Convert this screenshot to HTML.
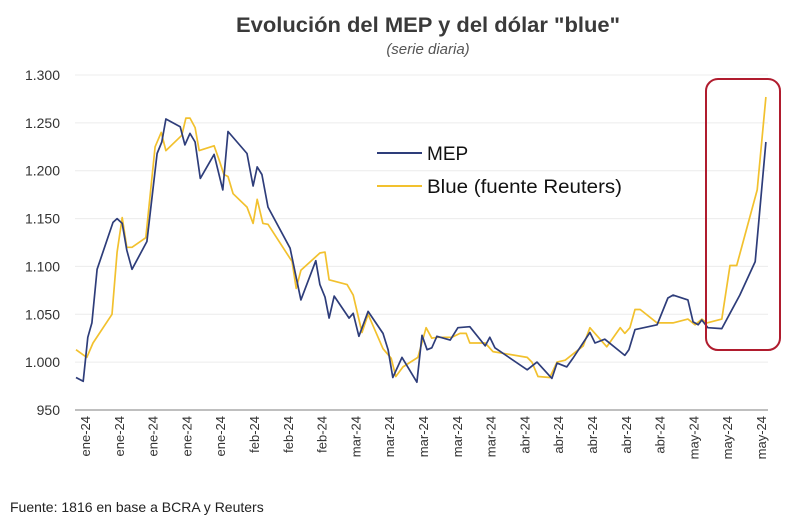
<!DOCTYPE html>
<html><head><meta charset="utf-8"><style>
html,body{margin:0;padding:0;background:#fff;width:800px;height:522px;overflow:hidden}
svg{display:block;font-family:"Liberation Sans",sans-serif}
</style></head><body>
<svg id="chart" width="800" height="522" viewBox="0 0 800 522">
<text x="428" y="32" text-anchor="middle" font-size="21" font-weight="bold" fill="#3a3a3a" textLength="384" lengthAdjust="spacingAndGlyphs">Evolución del MEP y del dólar "blue"</text>
<text x="428" y="54" text-anchor="middle" font-size="15" font-style="italic" fill="#555">(serie diaria)</text>
<g id="grid"></g><g id="yaxis"></g><g id="xaxis"></g><g id="series"></g>
<rect x="706" y="79" width="74" height="271" rx="12" ry="12" fill="none" stroke="#b01c2e" stroke-width="2"/>
<g>
<line x1="377" y1="153" x2="422" y2="153" stroke="#2e3d7a" stroke-width="2"/>
<text x="427" y="160" font-size="19" fill="#111">MEP</text>
<line x1="377" y1="186" x2="422" y2="186" stroke="#f2c12e" stroke-width="2"/>
<text x="427" y="193" font-size="19" fill="#111" textLength="195" lengthAdjust="spacingAndGlyphs">Blue (fuente Reuters)</text>
</g>
<text x="10" y="512" font-size="14" fill="#222">Fuente: 1816 en base a BCRA y Reuters</text>
</svg>
<script>
const yTicks=[950,1000,1050,1100,1150,1200,1250,1300];
const yTickLabels=["950","1.000","1.050","1.100","1.150","1.200","1.250","1.300"];
const xTickLabels=["ene-24","ene-24","ene-24","ene-24","ene-24","feb-24","feb-24","feb-24","mar-24","mar-24","mar-24","mar-24","mar-24","abr-24","abr-24","abr-24","abr-24","abr-24","may-24","may-24","may-24"];
const mepDays=[0.2,1.6,2.5,3.3,4.3,7.4,8.2,9.2,10.1,11.1,14.0,16.0,16.9,17.7,20.5,21.4,22.4,23.4,24.4,27.1,28.8,29.8,33.5,34.7,35.5,36.4,37.6,41.9,44.0,46.9,47.7,48.7,49.5,50.5,53.4,54.2,55.3,57.1,60.0,61.0,61.9,63.7,66.6,67.6,68.6,69.5,70.5,73.1,74.6,76.9,79.9,80.8,81.8,88.1,90.0,92.9,93.9,95.8,97.0,100.3,101.3,103.2,107.1,107.9,109.1,113.4,115.5,116.5,119.4,120.4,121.4,122.1,123.3,126.0,127.6,129.5,132.5,134.6];
const mepValues=[984,980,1026,1041,1097,1146,1150,1145,1117,1097,1126,1218,1230,1254,1246,1227,1239,1230,1192,1217,1180,1241,1218,1184,1204,1196,1162,1119,1065,1106,1081,1068,1046,1069,1046,1051,1027,1053,1030,1013,984,1005,979,1028,1013,1015,1027,1023,1036,1037,1017,1026,1015,992,1000,983,999,995,1004,1031,1020,1024,1007,1013,1034,1039,1067,1070,1065,1042,1039,1044,1036,1035,1051,1070,1105,1230];
const blueDays=[0.2,2.3,3.5,7.2,8.2,9.2,10.1,11.1,13.8,15.6,16.8,17.7,20.8,21.6,22.4,23.4,24.2,27.1,28.1,29.0,29.8,30.8,33.5,34.7,35.5,36.6,37.6,42.3,43.1,44.0,47.7,48.7,49.5,53.0,54.2,55.9,57.1,60.0,61.6,62.5,63.9,66.8,68.4,69.5,70.5,73.4,75.0,76.2,76.9,79.9,81.4,88.1,89.0,90.2,92.5,93.9,95.5,99.0,100.3,103.6,106.2,107.1,108.1,109.1,110.1,113.4,116.5,119.4,120.8,122.1,123.1,126.0,127.6,128.9,132.9,134.6];
const blueValues=[1013,1005,1020,1050,1115,1151,1120,1120,1130,1225,1240,1221,1237,1255,1255,1245,1221,1226,1211,1196,1194,1176,1162,1145,1170,1145,1144,1105,1077,1096,1114,1115,1086,1081,1070,1031,1050,1014,1004,985,995,1005,1036,1025,1026,1026,1030,1030,1020,1020,1011,1005,1000,985,984,1000,1002,1017,1036,1016,1036,1030,1036,1055,1055,1041,1041,1045,1039,1045,1041,1045,1101,1101,1180,1277];

const NS="http://www.w3.org/2000/svg";
const X0=75,X1=768,Y0=75,Y1=410,DMAX=135;
const xs=d=>X0+(d/DMAX)*(X1-X0);
const ys=v=>Y1-(v-950)/(1300-950)*(Y1-Y0);
function mk(t,a){const e=document.createElementNS(NS,t);for(const k in a)e.setAttribute(k,a[k]);return e;}
const grid=document.getElementById('grid'),ya=document.getElementById('yaxis'),xa=document.getElementById('xaxis'),se=document.getElementById('series');
yTicks.forEach((v,i)=>{
  const l=mk('line',{x1:X0,x2:X1,y1:ys(v),y2:ys(v),stroke:i===0?'#bfbfbf':'#ececec','stroke-width':i===0?2:1});
  
  
  grid.appendChild(l);
  const t=mk('text',{x:60,y:ys(v)+5,'text-anchor':'end','font-size':14,fill:'#333'});
  t.textContent=yTickLabels[i];
  
  
  ya.appendChild(t);
});
xTickLabels.forEach((s,i)=>{
  const x=85+i*33.8;
  const t=mk('text',{x:0,y:0,'text-anchor':'end','font-size':13,fill:'#333',transform:`translate(${x+5},416) rotate(-90)`});
  t.textContent=s;
  
  
  xa.appendChild(t);
});
function line(days,vals,color,name){
  const p=mk('polyline',{points:days.map((d,i)=>xs(d).toFixed(1)+','+ys(vals[i]).toFixed(1)).join(' '),fill:'none',stroke:color,'stroke-width':1.7,'stroke-linejoin':'round'});
  
  
  se.appendChild(p);
}
line(blueDays,blueValues,'#f2c12e','blue-line');
line(mepDays,mepValues,'#2e3d7a','mep-line');
</script>
</body></html>
